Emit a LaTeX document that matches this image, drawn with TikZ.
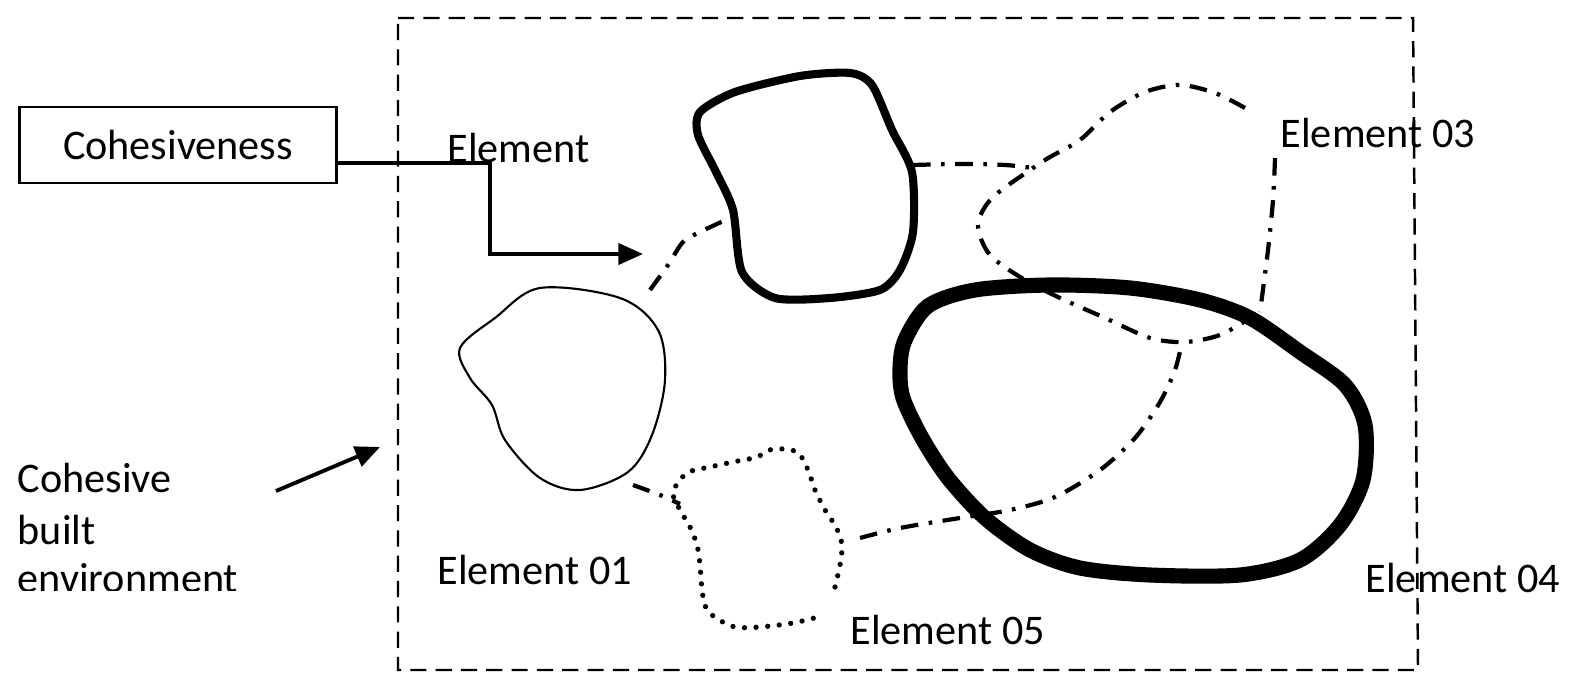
\documentclass[tikz,border=0pt]{standalone}
\usepackage{fontspec}
\setmainfont{Carlito}
\usepackage{tikz}
\usetikzlibrary{positioning,arrows.meta}

\tikzset{
  txt/.style={font=\fontsize{12}{14.2}\selectfont,inner sep=0pt},
  frame/.style={dash pattern=on 4.6pt off 2.6pt,line width=0.7pt},
  linkdd/.style={dash pattern=on 5pt off 3pt on 1pt off 3pt,line width=1.2pt},
  dotty/.style={dash pattern=on 0pt off 3.3pt,line width=1.5pt,line cap=round},
}

\begin{document}
\begin{tikzpicture}[x=0.01cm,y=-0.01cm,>={Triangle[length=7pt,width=6pt]}]
\useasboundingbox (0,0) rectangle (1571,677);

%---------------------------------
% MARCO: ENTORNO CONSTRUIDO
%---------------------------------
\coordinate (fTL) at (398,18);
\coordinate (fTR) at (1413,18);
\coordinate (fBR) at (1418,670);
\coordinate (fBL) at (398,670);
\draw[frame] (fTL) -- (fTR) -- (fBR) -- (fBL) -- cycle;

%---------------------------------
% ETIQUETAS IZQUIERDA
%---------------------------------
\node[txt,draw,line width=0.6pt,minimum width=317*0.01cm,minimum height=76*0.01cm]
  (coh) at (178,145) {Cohesiveness};
\node[txt,anchor=west] (elem) at (447,148) {Element};
\coordinate (cohEnd) at (643,254);
\draw[->,line width=1pt] ([yshift=-0.18cm]coh.east) -| (490,254) -- (cohEnd);

\node[txt,anchor=west] (cbe1) at (17,478) {Cohesive};
\node[txt,anchor=west] (cbe2) at (17,530) {built};
\begin{scope}
\clip (0,555) rectangle (400,590);
\node[txt,anchor=west] (cbe3) at (17,578) {environment};
\end{scope}
\coordinate (cbeTip) at (380,447);
\draw[->,line width=1.1pt] (276,491) -- (cbeTip);

%---------------------------------
% ELEMENTOS
%---------------------------------
% element 01 (linea fina)
\draw[line width=0.6pt] plot[smooth cycle,tension=0.55] coordinates {
  (460,348) (495,318) (540,288) (620,298) (658,330) (665,380)
  (652,435) (628,472) (580,490) (540,478) (505,440) (492,405) (470,378)};
% element 02 (linea gruesa)
\draw[line width=2.3pt] plot[smooth cycle,tension=0.45] coordinates {
  (700,112) (735,92) (800,76) (850,73) (872,85) (892,130) (912,172)
  (913,232) (900,270) (880,290) (830,298) (775,298) (742,272)
  (733,210) (716,172) (698,135)};
% element 04 (linea muy gruesa)
\draw[line width=4.3pt] plot[smooth cycle,tension=0.5] coordinates {
  (905,340) (928,306) (975,290) (1050,285) (1130,288) (1200,300)
  (1250,318) (1300,352) (1345,385) (1365,425) (1363,480) (1340,525)
  (1300,560) (1240,575) (1150,575) (1080,568) (1030,550) (985,518)
  (948,478) (922,438) (903,398) (900,368)};
% element 03 (linea y punto)
\draw[linkdd] plot[smooth,tension=0.5] coordinates {
  (1245,108) (1215,93) (1180,85) (1145,92) (1110,112) (1080,140)
  (1050,157) (1033,168) (992,198) (978,225) (990,255) (1025,280)
  (1060,298) (1105,318) (1150,338) (1185,342) (1220,335) (1250,318)};
\draw[linkdd] plot[smooth,tension=0.5] coordinates {
  (1275,158) (1273,200) (1268,250) (1260,312)};
% element 05 (punteado)
\draw[dotty] plot[smooth,tension=0.5] coordinates {
  (835,587) (840,565) (842,545) (836,527) (825,510) (815,490) (808,470)
  (797,452) (773,449) (757,457) (733,462) (710,467) (687,473) (673,492)
  (680,510) (690,527) (697,545) (700,565) (702,590) (706,608)
  (716,618) (735,627) (760,627) (793,623) (818,617)};

%---------------------------------
% ENLACES ENTRE ELEMENTOS
%---------------------------------
\draw[linkdd] plot[smooth,tension=0.5] coordinates {
  (650,290) (668,265) (683,242) (700,232) (730,218)};
\draw[linkdd] plot[smooth,tension=0.5] coordinates {
  (913,165) (960,164) (1005,165) (1033,168)};
\draw[linkdd] plot[smooth,tension=0.5] coordinates {
  (633,485) (660,495) (680,504)};
\draw[linkdd] plot[smooth,tension=0.5] coordinates {
  (860,538) (900,528) (960,518) (1010,510) (1055,497) (1100,470)
  (1135,438) (1160,402) (1175,370) (1182,342)};

%---------------------------------
% ETIQUETAS DE ELEMENTOS
%---------------------------------
\node[txt,anchor=west] (e01) at (437,570) {Element 01};
\node[txt,anchor=west] (e03) at (1280,133) {Element 03};
\node[txt,anchor=west] (e04) at (1365,578) {Element 04};
\node[txt,anchor=west] (e05) at (850,630) {Element 05};

\end{tikzpicture}
\end{document}
